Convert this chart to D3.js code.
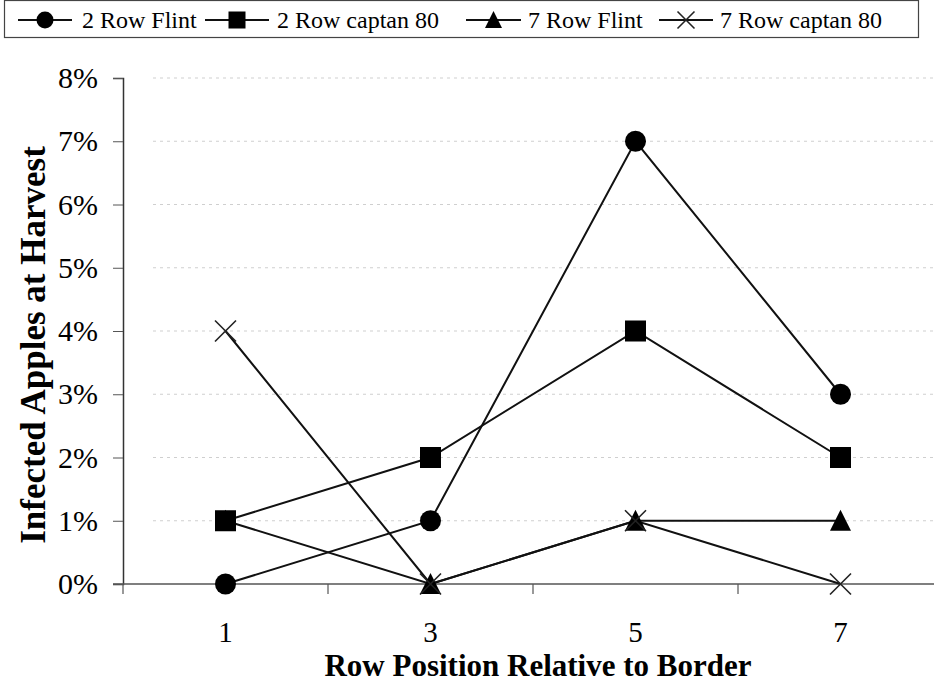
<!DOCTYPE html>
<html>
<head>
<meta charset="utf-8">
<script src="https://cdn.jsdelivr.net/npm/d3@7"></script>
<style>
  html, body { margin: 0; padding: 0; background: #fff; }
  svg { display: block; }
</style>
</head>
<body>
<svg id="chart" width="934" height="682"></svg>
<script>
// Row positions (relative to border) and infection rates per treatment
const rows = ["1", "3", "5", "7"];
const twoRowFlint   = [0.00, 0.01, 0.07, 0.03];
const twoRowCaptan  = [0.01, 0.02, 0.04, 0.02];
const sevenRowFlint = [0.01, 0.00, 0.01, 0.01];
const sevenRowCaptan= [0.04, 0.00, 0.01, 0.00];
const seriesNames = ["2 Row Flint", "2 Row captan 80", "7 Row Flint", "7 Row captan 80"];
const yTicks = [0, 0.01, 0.02, 0.03, 0.04, 0.05, 0.06, 0.07, 0.08];

const SERIF = '"Liberation Serif", "Times New Roman", serif';

const series = [
  { name: seriesNames[0], values: twoRowFlint,    marker: "circle" },
  { name: seriesNames[1], values: twoRowCaptan,   marker: "square" },
  { name: seriesNames[2], values: sevenRowFlint,  marker: "triangle" },
  { name: seriesNames[3], values: sevenRowCaptan, marker: "cross" }
];

const svg = d3.select("#chart");
const plot = { left: 123, right: 943, top: 78, bottom: 584 };

const x = d3.scaleBand().domain(rows).range([plot.left, plot.right]).padding(0);
const y = d3.scaleLinear().domain([0, 0.08]).range([plot.bottom, plot.top]);

// Horizontal dotted gridlines
svg.append("g")
  .selectAll("line")
  .data(yTicks.filter(d => d > 0))
  .join("line")
  .attr("x1", plot.left + 30).attr("x2", 934)
  .attr("y1", d => y(d)).attr("y2", d => y(d))
  .attr("stroke", "#cfcfcf")
  .attr("stroke-width", 1.2)
  .attr("stroke-dasharray", "3,4");

// Y axis
const yAxis = svg.append("g")
  .attr("transform", `translate(${plot.left},0)`)
  .call(d3.axisLeft(y).tickValues(yTicks).tickFormat(d3.format(".0%")).tickSize(10).tickPadding(15));
yAxis.select(".domain").attr("stroke", "#333").attr("stroke-width", 1.5);
yAxis.selectAll(".tick line").attr("stroke", "#555");
yAxis.selectAll("text")
  .attr("font-family", null).attr("font-size", null)
  .style("font-family", SERIF).style("font-size", "30px").style("fill", "#000");

// X axis: category labels at band centres, tick marks at band edges
const xAxis = svg.append("g")
  .attr("transform", `translate(0,${plot.bottom})`);
xAxis.append("line")
  .attr("x1", plot.left - 10).attr("x2", 934)
  .attr("stroke", "#555").attr("stroke-width", 1.5);
xAxis.selectAll(".xtick")
  .data(rows.map(r => x(r)).concat([plot.right]))
  .join("line")
  .attr("class", "xtick")
  .attr("x1", d => d).attr("x2", d => d)
  .attr("y1", 0).attr("y2", 10)
  .attr("stroke", "#555").attr("stroke-width", 1.2);
xAxis.selectAll(".xlabel")
  .data(rows)
  .join("text")
  .attr("class", "xlabel")
  .attr("x", d => x(d) + x.bandwidth() / 2)
  .attr("y", 58)
  .attr("text-anchor", "middle")
  .style("font-family", SERIF)
  .style("font-size", "29px")
  .text(d => d);

// Axis titles
svg.append("text")
  .attr("x", 538).attr("y", 676)
  .attr("text-anchor", "middle")
  .style("font-family", SERIF)
  .style("font-size", "31px").style("font-weight", "bold")
  .text("Row Position Relative to Border");

svg.append("text")
  .attr("transform", "translate(45,345) rotate(-90)")
  .attr("text-anchor", "middle")
  .style("font-family", SERIF)
  .style("font-size", "35px").style("font-weight", "bold")
  .text("Infected Apples at Harvest");

// Marker drawing
function drawMarker(g, type, cx, cy, s) {
  if (type === "circle") {
    g.append("circle").attr("cx", cx).attr("cy", cy).attr("r", s * 0.5).attr("fill", "#000");
  } else if (type === "square") {
    g.append("rect").attr("x", cx - s / 2).attr("y", cy - s / 2)
      .attr("width", s).attr("height", s).attr("fill", "#000");
  } else if (type === "triangle") {
    const h = s * 0.95;
    g.append("path")
      .attr("d", `M${cx},${cy - h / 2 - 1}L${cx + s / 2},${cy + h / 2}L${cx - s / 2},${cy + h / 2}Z`)
      .attr("fill", "#000");
  } else {
    const r = s * 0.5;
    g.append("path")
      .attr("d", `M${cx - r},${cy - r}L${cx + r},${cy + r}M${cx - r},${cy + r}L${cx + r},${cy - r}`)
      .attr("stroke", "#222").attr("stroke-width", 1.6).attr("fill", "none");
  }
}

const line = d3.line()
  .x((d, i) => x(rows[i]) + x.bandwidth() / 2)
  .y(d => y(d));

const marks = svg.append("g");
series.forEach(s => {
  marks.append("path")
    .attr("d", line(s.values))
    .attr("fill", "none").attr("stroke", "#111").attr("stroke-width", 2);
});
series.forEach(s => {
  const g = marks.append("g");
  s.values.forEach((v, i) => {
    drawMarker(g, s.marker, x(rows[i]) + x.bandwidth() / 2, y(v), 21);
  });
});

// Legend: each entry is a short line with its marker, then the series name
const legend = svg.append("g");
legend.append("rect")
  .attr("x", 4.5).attr("y", 0.5).attr("width", 914).attr("height", 37)
  .attr("fill", "#fff").attr("stroke", "#444").attr("stroke-width", 1.2);
const legendLineStart = [18, 205, 466, 659];
const legendLineEnd   = [72, 269, 521, 713];
const legendTextStart = [82, 277, 528, 720];
series.forEach((s, i) => {
  const ly = 20;
  const x0 = legendLineStart[i], x1 = legendLineEnd[i];
  legend.append("line")
    .attr("x1", x0).attr("x2", x1).attr("y1", ly).attr("y2", ly)
    .attr("stroke", "#111").attr("stroke-width", 2);
  drawMarker(legend, s.marker, (x0 + x1) / 2, ly, 17);
  legend.append("text")
    .attr("x", legendTextStart[i]).attr("y", ly + 8)
    .style("font-family", SERIF)
    .style("font-size", "24px")
    .text(s.name);
});
</script>
</body>
</html>
